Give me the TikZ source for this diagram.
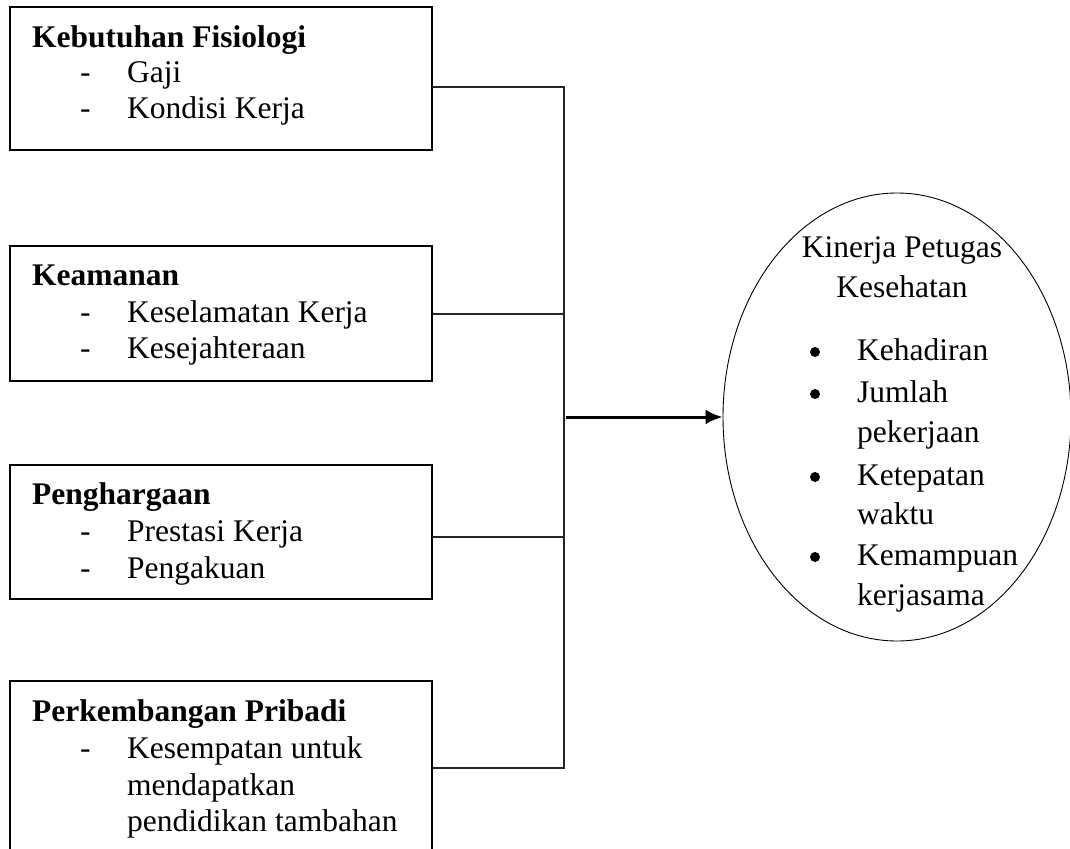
\documentclass[tikz,border=0pt]{standalone}
\usepackage{fontspec}
\setmainfont{Liberation Serif}
\usetikzlibrary{arrows.meta,shapes.geometric}
\tikzset{
  box/.style={draw=black, line width=2.8pt, rectangle, inner sep=0pt},
  conn/.style={draw=black!85, line width=2pt},
  arrowline/.style={draw=black, line width=3pt, -{Latex[length=17pt,width=15pt]}},
  oval/.style={draw=black, line width=0.9pt, ellipse, inner sep=0pt},
  head/.style={anchor=base west, inner sep=0pt, font=\fontsize{31.5}{35}\selectfont\bfseries},
  item/.style={anchor=base west, inner sep=0pt},
  mid/.style={anchor=base, inner sep=0pt},
  dot/.style={circle, fill=black, inner sep=0pt, minimum size=10pt},
}
\begin{document}
\begin{tikzpicture}[x=1pt, y=-1pt, every node/.append style={font=\fontsize{31.5}{35}\selectfont}]
\clip (0,0) rectangle (1070,848);
\fill[white] (0,0) rectangle (1070,848);
% boxes
\node[box, minimum width=422pt, minimum height=143pt] (b1) at (221,78.5) {};
\node[box, minimum width=422pt, minimum height=135pt] (b2) at (221,313.5) {};
\node[box, minimum width=422pt, minimum height=134pt] (b3) at (221,532) {};
\node[box, minimum width=422pt, minimum height=200pt] (b4) at (221,781) {};
% box texts
\node[head] (t1) at (32,48) {Kebutuhan Fisiologi};
\node[item] (d11) at (80,83) {-};
\node[item] (i11) at (127,83) {Gaji};
\node[item] (d12) at (80,118) {-};
\node[item] (i12) at (127,118) {Kondisi Kerja};
\node[head] (t2) at (32,285) {Keamanan};
\node[item] (d21) at (80,322) {-};
\node[item] (i21) at (127,322) {Keselamatan Kerja};
\node[item] (d22) at (80,358) {-};
\node[item] (i22) at (127,358) {Kesejahteraan};
\node[head] (t3) at (32,504) {Penghargaan};
\node[item] (d31) at (80,541) {-};
\node[item] (i31) at (127,541) {Prestasi Kerja};
\node[item] (d32) at (80,578) {-};
\node[item] (i32) at (127,578) {Pengakuan};
\node[head] (t4) at (32,721) {Perkembangan Pribadi};
\node[item] (d41) at (80,758) {-};
\node[item] (i41) at (127,758) {Kesempatan untuk};
\node[item] (i42) at (127,795) {mendapatkan};
\node[item] (i43) at (127,831) {pendidikan tambahan};
% ellipse
\node[oval, minimum width=348pt, minimum height=448pt] (E) at (897,417) {};
\node[mid] (e0) at (902,257) {Kinerja Petugas};
\node[mid] (e1) at (902,297) {Kesehatan};
\node[dot] (bu1) at (815,352) {};
\node[item] (k1) at (857,360) {Kehadiran};
\node[dot] (bu2) at (815,394) {};
\node[item] (k2) at (857,402) {Jumlah};
\node[item] (k3) at (857,442) {pekerjaan};
\node[dot] (bu3) at (815,477) {};
\node[item] (k4) at (857,485) {Ketepatan};
\node[item] (k5) at (857,524) {waktu};
\node[dot] (bu4) at (815,557) {};
\node[item] (k6) at (857,565) {Kemampuan};
\node[item] (k7) at (857,605) {kerjasama};
% connectors
\coordinate (j1) at (564,87);
\coordinate (j2) at (564,313.5);
\coordinate (j3) at (564,537);
\coordinate (j4) at (564,768);
\coordinate (ja) at (566,417);
\draw[conn] (b1.east |- j1) -- (j1) -- (j4) -- (b4.east |- j4);
\draw[conn] (b2.east) -- (j2);
\draw[conn] (b3.east |- j3) -- (j3);
\draw[arrowline] (ja) -- (E.west);
\end{tikzpicture}
\end{document}
